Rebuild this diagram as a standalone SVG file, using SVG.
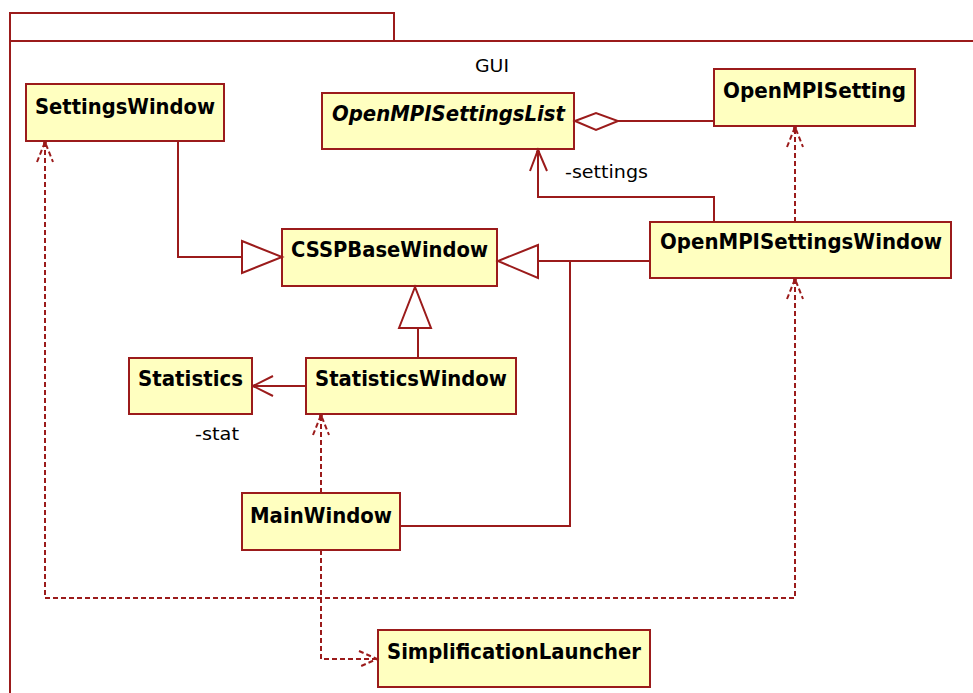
<svg xmlns="http://www.w3.org/2000/svg" width="973" height="693" viewBox="0 0 973 693">
  <style>
    .pkg { fill: #ffffff; stroke: #9b1b1b; stroke-width: 2; }
    .cls rect { fill: #ffffc0; stroke: #9b1b1b; stroke-width: 2; }
    .name { font-family: "DejaVu Sans", "Liberation Sans", sans-serif; font-weight: bold; font-size: 21px; fill: #000; }
    .abstract { font-style: italic; }
    .lbl { font-family: "DejaVu Sans", "Liberation Sans", sans-serif; font-size: 18px; fill: #000; }
    .edge { fill: none; stroke: #9b1b1b; stroke-width: 2; }
    .dash { stroke-dasharray: 5 3; }
    .head { fill: #ffffff; stroke: #9b1b1b; stroke-width: 2; stroke-linejoin: miter; }
    .dot { fill: #9b1b1b; }
  </style>

  <!-- package frame -->
  <g id="package-GUI">
    <rect class="pkg" x="10" y="13" width="384" height="28"/>
    <rect class="pkg" x="10" y="41" width="975" height="670"/>
    <text class="lbl" x="475" y="72" textLength="34" lengthAdjust="spacingAndGlyphs">GUI</text>
  </g>

  <!-- classes -->
  <g id="SettingsWindow" class="cls">
    <rect x="26" y="84" width="198" height="57"/>
    <text class="name" x="35" y="114" textLength="180" lengthAdjust="spacingAndGlyphs">SettingsWindow</text>
  </g>
  <g id="OpenMPISettingsList" class="cls">
    <rect x="322" y="93" width="252" height="56"/>
    <text class="name abstract" x="332" y="121" textLength="233" lengthAdjust="spacingAndGlyphs">OpenMPISettingsList</text>
  </g>
  <g id="OpenMPISetting" class="cls">
    <rect x="714" y="69" width="201" height="57"/>
    <text class="name" x="723" y="98" textLength="183" lengthAdjust="spacingAndGlyphs">OpenMPISetting</text>
  </g>
  <g id="OpenMPISettingsWindow" class="cls">
    <rect x="650" y="222" width="301" height="56"/>
    <text class="name" x="660" y="249" textLength="282" lengthAdjust="spacingAndGlyphs">OpenMPISettingsWindow</text>
  </g>
  <g id="CSSPBaseWindow" class="cls">
    <rect x="282" y="229" width="215" height="57"/>
    <text class="name" x="291" y="257" textLength="197" lengthAdjust="spacingAndGlyphs">CSSPBaseWindow</text>
  </g>
  <g id="Statistics" class="cls">
    <rect x="129" y="358" width="123" height="56"/>
    <text class="name" x="138" y="386" textLength="105" lengthAdjust="spacingAndGlyphs">Statistics</text>
  </g>
  <g id="StatisticsWindow" class="cls">
    <rect x="306" y="358" width="210" height="56"/>
    <text class="name" x="315" y="386" textLength="192" lengthAdjust="spacingAndGlyphs">StatisticsWindow</text>
  </g>
  <g id="MainWindow" class="cls">
    <rect x="242" y="493" width="158" height="57"/>
    <text class="name" x="250" y="523" textLength="142" lengthAdjust="spacingAndGlyphs">MainWindow</text>
  </g>
  <g id="SimplificationLauncher" class="cls">
    <rect x="378" y="630" width="272" height="57"/>
    <text class="name" x="387" y="659" textLength="254" lengthAdjust="spacingAndGlyphs">SimplificationLauncher</text>
  </g>

  <!-- connectors -->
  <g id="connectors">
    <!-- generalizations to CSSPBaseWindow -->
    <path class="edge" d="M178,141 V257 H242"/>
    <polygon class="head" points="242,241 282,257 242,273"/>
    <path class="edge" d="M650,261 H538"/>
    <path class="edge" d="M400,526 H570 V261"/>
    <polygon class="head" points="538,245 498,261 538,278"/>
    <path class="edge" d="M418,358 V328"/>
    <polygon class="head" points="399,328 415,287 431,328"/>

    <!-- association StatisticsWindow -> Statistics (-stat) -->
    <path class="edge" d="M306,386 H253 M273,376 L253,386 L273,396"/>
    <circle class="dot" cx="255" cy="386" r="2"/>
    <text class="lbl" x="195" y="440" textLength="44" lengthAdjust="spacingAndGlyphs">-stat</text>

    <!-- association OpenMPISettingsWindow -> OpenMPISettingsList (-settings) -->
    <path class="edge" d="M714,222 V197 H538 V150 M530,171 L538,150 L547,171"/>
    <circle class="dot" cx="538" cy="152" r="2"/>
    <text class="lbl" x="565" y="178" textLength="83" lengthAdjust="spacingAndGlyphs">-settings</text>

    <!-- aggregation OpenMPISettingsList <>- OpenMPISetting -->
    <path class="edge" d="M618,121 H714"/>
    <polygon class="head" points="575,121 596,113 618,121 596,130"/>

    <!-- dependency OpenMPISettingsWindow -> OpenMPISetting -->
    <path class="edge dash" d="M795,222 V128"/>
    <path class="edge dash" d="M787,147 L795,127 L803,147"/>
    <circle class="dot" cx="795" cy="128" r="2"/>

    <!-- dependencies from MainWindow -->
    <path class="edge dash" d="M321,493 V415"/>
    <path class="edge dash" d="M313,435 L321,415 L329,435"/>
    <circle class="dot" cx="321" cy="416" r="2"/>

    <path class="edge dash" d="M321,550 V659 H377"/>
    <path class="edge dash" d="M359,651 L377,659 L359,667"/>

    <path class="edge dash" d="M45,142 V598 H795 V279"/>
    <path class="edge dash" d="M37,162 L45,142 L53,162"/>
    <circle class="dot" cx="45" cy="143" r="2"/>
    <path class="edge dash" d="M787,299 L795,279 L803,299"/>
    <circle class="dot" cx="795" cy="280" r="2"/>
  </g>
</svg>
